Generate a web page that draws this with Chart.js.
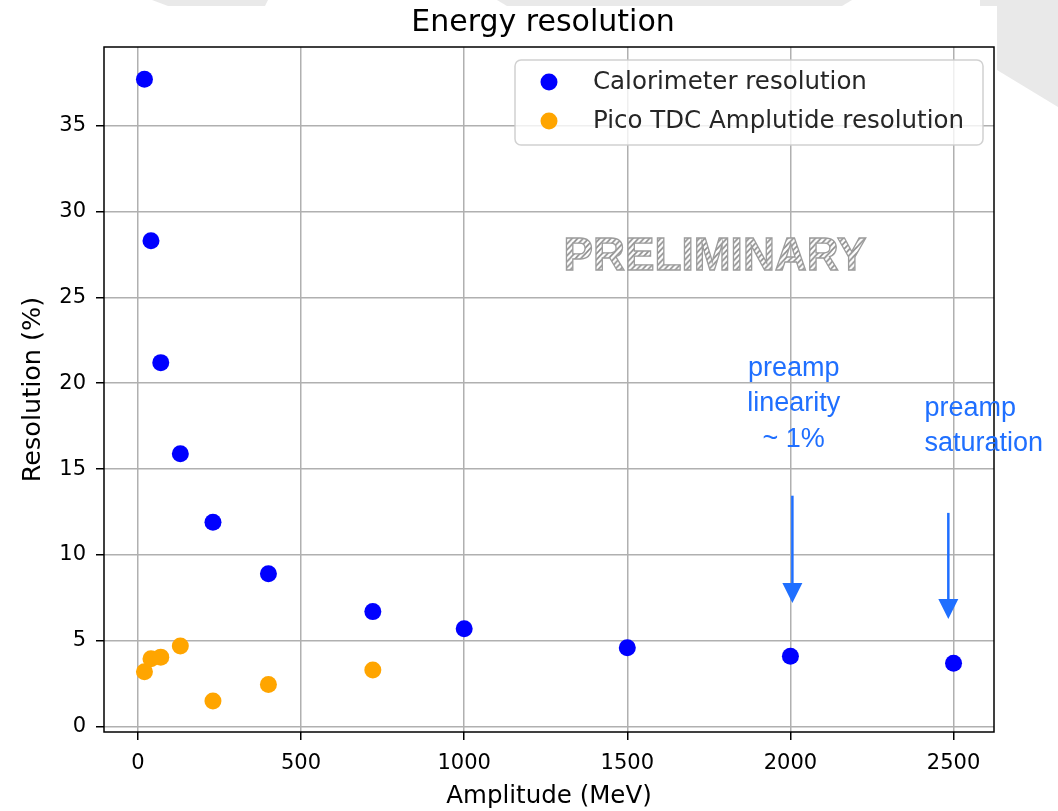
<!DOCTYPE html>
<html>
<head>
<meta charset="utf-8">
<script src="https://cdn.jsdelivr.net/npm/chart.js@4.4.1/dist/chart.umd.min.js"></script>
<style>
  html, body { margin: 0; padding: 0; background: #fff; }
  #wrap { width: 1058px; height: 811px; position: relative; }
</style>
</head>
<body>
<div id="wrap"><canvas id="chart"></canvas></div>
<script>
// data
const caloAmplitude = [20, 40, 70, 130, 230, 400, 720, 1000, 1500, 2000, 2500];
const caloResolution = [37.7, 28.3, 21.2, 15.9, 11.9, 8.9, 6.7, 5.7, 4.6, 4.1, 3.7];
const picoAmplitude = [20, 40, 70, 130, 230, 400, 720];
const picoResolution = [3.2, 3.95, 4.05, 4.7, 1.5, 2.45, 3.3];
const xTickValues = [0, 500, 1000, 1500, 2000, 2500];
const yTickValues = [0, 5, 10, 15, 20, 25, 30, 35];
const legendLabels = ["Calorimeter resolution", "Pico TDC Amplutide resolution"];
const seriesColors = ["#0000ff", "#ffa500"];

// annotations (data coordinates)
const noteLinearity = { x: 2010, y: 20.45, lines: ["preamp", "linearity", "~ 1%"], align: "center" };
const noteSaturation = { x: 2411, y: 18.1, lines: ["preamp", "saturation"], align: "left" };
const arrows = [
  { x: 2006, from: 13.45, to: 7.2 },
  { x: 2484, from: 12.45, to: 6.27 }
];
const watermark = { x: 1769, y: 27.36, text: "PRELIMINARY" };

const BASE_FONT = "'DejaVu Sans', sans-serif";
const NOTE_COLOR = "#1f6fff";

const toPoints = (xs, ys) => xs.map((x, i) => ({ x: x, y: ys[i] }));

// slide decoration behind the figure
const backdrop = {
  id: "backdrop",
  beforeDraw(chart) {
    const ctx = chart.ctx;
    ctx.save();
    ctx.fillStyle = "#fff";
    ctx.fillRect(0, 0, chart.width, chart.height);
    ctx.fillStyle = "#e9e9e9";
    const shapes = [
      [[152, 0], [268, 0], [265, 6], [168, 6]],
      [[497, 0], [852, 0], [842, 6], [507, 6]],
      [[980, 0], [1058, 0], [1058, 107], [997, 70], [997, 6], [980, 6]]
    ];
    shapes.forEach((pts) => {
      ctx.beginPath();
      pts.forEach((p, i) => (i ? ctx.lineTo(p[0], p[1]) : ctx.moveTo(p[0], p[1])));
      ctx.closePath();
      ctx.fill();
    });
    ctx.restore();
  }
};

// frame on all four sides, drawn over the points like matplotlib
const frame = {
  id: "frame",
  afterDatasetsDraw(chart) {
    const { ctx, chartArea: a } = chart;
    ctx.save();
    ctx.strokeStyle = "#000";
    ctx.lineWidth = 1.5;
    ctx.strokeRect(a.left, a.top, a.right - a.left, a.bottom - a.top);
    ctx.restore();
  }
};

function hatchPattern(ctx) {
  const c = document.createElement("canvas");
  c.width = 6;
  c.height = 6;
  const p = c.getContext("2d");
  p.fillStyle = "#fff";
  p.fillRect(0, 0, 6, 6);
  p.strokeStyle = "#8a8a8a";
  p.lineWidth = 1.6;
  p.beginPath();
  p.moveTo(-1, 7); p.lineTo(7, -1);
  p.moveTo(-4, 4); p.lineTo(4, -4);
  p.moveTo(2, 10); p.lineTo(10, 2);
  p.stroke();
  return ctx.createPattern(c, "repeat");
}

const overlays = {
  id: "overlays",
  afterDraw(chart) {
    const { ctx, chartArea: a, scales } = chart;
    const sx = scales.x, sy = scales.y;
    ctx.save();

    // title
    ctx.fillStyle = "#000";
    ctx.font = "30px " + BASE_FONT;
    ctx.textAlign = "center";
    ctx.textBaseline = "alphabetic";
    ctx.fillText("Energy resolution", 543, 31);

    // watermark
    const wx = sx.getPixelForValue(watermark.x);
    const wy = sy.getPixelForValue(watermark.y);
    ctx.font = "bold 48px 'Liberation Sans', Arial, sans-serif";
    const w = ctx.measureText(watermark.text).width;
    ctx.save();
    ctx.translate(wx, wy);
    ctx.scale(303 / w, 0.98);
    ctx.textAlign = "center";
    ctx.textBaseline = "middle";
    ctx.fillStyle = hatchPattern(ctx);
    ctx.fillText(watermark.text, 0, 0);
    ctx.strokeStyle = "#9c9c9c";
    ctx.lineWidth = 1.4;
    ctx.strokeText(watermark.text, 0, 0);
    ctx.restore();

    // legend box
    const boxR = a.right - 11, boxL = boxR - 468, boxT = a.top + 13, boxB = boxT + 85;
    ctx.beginPath();
    ctx.roundRect(boxL, boxT, boxR - boxL, boxB - boxT, 6);
    ctx.fillStyle = "rgba(255,255,255,0.8)";
    ctx.fill();
    ctx.strokeStyle = "rgba(204,204,204,0.9)";
    ctx.lineWidth = 1.5;
    ctx.stroke();
    ctx.font = "24.5px " + BASE_FONT;
    ctx.textAlign = "left";
    ctx.textBaseline = "middle";
    legendLabels.forEach((label, i) => {
      const cy = boxT + 22 + i * 39;
      ctx.beginPath();
      ctx.arc(boxL + 34, cy, 8.5, 0, Math.PI * 2);
      ctx.fillStyle = seriesColors[i];
      ctx.fill();
      ctx.fillStyle = "#262626";
      ctx.fillText(label, boxL + 78, cy + 1);
    });

    // blue notes
    ctx.fillStyle = NOTE_COLOR;
    ctx.font = "27px 'Liberation Sans', Arial, sans-serif";
    ctx.textBaseline = "alphabetic";
    [noteLinearity, noteSaturation].forEach((n) => {
      ctx.textAlign = n.align;
      const nx = sx.getPixelForValue(n.x);
      const ny = sy.getPixelForValue(n.y);
      n.lines.forEach((t, i) => ctx.fillText(t, nx, ny + i * 35.5));
    });

    // arrows
    ctx.strokeStyle = NOTE_COLOR;
    ctx.lineWidth = 2.5;
    arrows.forEach((ar) => {
      const x = sx.getPixelForValue(ar.x);
      const y0 = sy.getPixelForValue(ar.from);
      const y1 = sy.getPixelForValue(ar.to);
      ctx.beginPath();
      ctx.moveTo(x, y0);
      ctx.lineTo(x, y1 - 18);
      ctx.stroke();
      ctx.beginPath();
      ctx.moveTo(x - 10, y1 - 20);
      ctx.lineTo(x + 10, y1 - 20);
      ctx.lineTo(x, y1);
      ctx.closePath();
      ctx.fill();
    });

    ctx.restore();
  }
};

Chart.defaults.font.family = BASE_FONT;
Chart.defaults.color = "#000";

new Chart(document.getElementById("chart"), {
  type: "scatter",
  data: {
    datasets: [
      {
        label: legendLabels[0],
        data: toPoints(caloAmplitude, caloResolution),
        backgroundColor: seriesColors[0],
        borderWidth: 0,
        pointRadius: 8.5
      },
      {
        label: legendLabels[1],
        data: toPoints(picoAmplitude, picoResolution),
        backgroundColor: seriesColors[1],
        borderWidth: 0,
        pointRadius: 8.5
      }
    ]
  },
  options: {
    responsive: true,
    maintainAspectRatio: false,
    animation: false,
    layout: { padding: { top: 47, right: 64, left: 0, bottom: 0 } },
    plugins: {
      legend: { display: false },
      title: { display: false },
      tooltip: { enabled: false }
    },
    scales: {
      x: {
        type: "linear",
        min: -104,
        max: 2624,
        afterBuildTicks: (s) => { s.ticks = xTickValues.map((v) => ({ value: v })); },
        afterFit: (s) => { s.height = 79; },
        grid: { color: "#b0b0b0", lineWidth: 1.5, tickColor: "#000", tickLength: 8 },
        border: { display: false },
        ticks: { font: { size: 21 }, padding: 11, maxRotation: 0, autoSkip: false, callback: (v) => String(v) },
        title: { display: true, text: "Amplitude (MeV)", font: { size: 24.5 }, padding: { top: 0, bottom: 0 } }
      },
      y: {
        type: "linear",
        min: -0.31,
        max: 39.58,
        afterBuildTicks: (s) => { s.ticks = yTickValues.map((v) => ({ value: v })); },
        afterFit: (s) => { s.width = 104; },
        grid: { color: "#b0b0b0", lineWidth: 1.5, tickColor: "#000", tickLength: 8 },
        border: { display: false },
        ticks: { font: { size: 21 }, padding: 10, callback: (v) => String(v) },
        title: { display: true, text: "Resolution (%)", font: { size: 25.5 }, padding: { top: 18, bottom: 0 } }
      }
    }
  },
  plugins: [backdrop, frame, overlays]
});
</script>
</body>
</html>
